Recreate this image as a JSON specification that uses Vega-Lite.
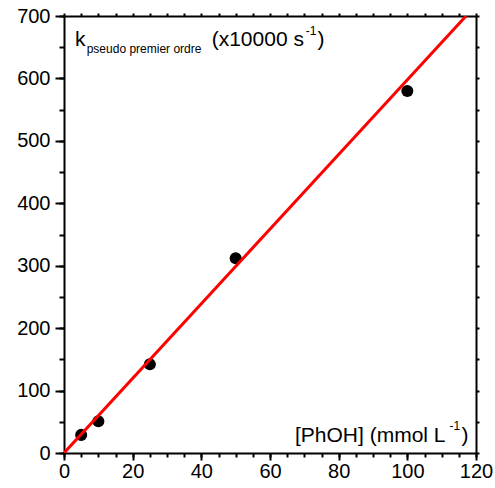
{
  "$schema": "https://vega.github.io/schema/vega-lite/v6.json",
  "width": 412,
  "height": 437,
  "autosize": {"type": "none"},
  "padding": {"left": 64, "top": 16, "right": 19, "bottom": 35},
  "background": "white",
  "config": {
    "view": {"stroke": null},
    "font": "Liberation Sans",
    "axis": {
      "grid": false,
      "domainColor": "black",
      "domainWidth": 2,
      "tickColor": "black",
      "tickWidth": 2,
      "labelColor": "black",
      "labelFont": "Liberation Sans",
      "labelFontSize": 20,
      "labelFlush": false,
      "labelOverlap": false
    }
  },
  "datasets": {
    "points": [
      {"conc": 5, "k": 29},
      {"conc": 10, "k": 51},
      {"conc": 25, "k": 142},
      {"conc": 50, "k": 312},
      {"conc": 100, "k": 580}
    ],
    "fit": [
      {"conc": 0, "k": 0},
      {"conc": 117.1, "k": 700}
    ],
    "bigtext": [
      {"conc": 3.2, "k": 651.9, "text": "k"},
      {"conc": 43.02, "k": 651.9, "text": "(x10000 s"},
      {"conc": 73.8, "k": 651.9, "text": ")"},
      {"conc": 67.28, "k": 18.1, "text": "[PhOH] (mmol L"},
      {"conc": 115.8, "k": 18.1, "text": ")"}
    ],
    "smalltext": [
      {"conc": 6.61, "k": 640.3, "text": "pseudo premier ordre"},
      {"conc": 70.4, "k": 669.6, "text": "-1"},
      {"conc": 112.3, "k": 36.9, "text": "-1"}
    ]
  },
  "layer": [
    {
      "data": {"name": "points"},
      "mark": {"type": "point", "filled": true, "color": "black", "opacity": 1, "size": 145, "shape": "circle"},
      "encoding": {
        "x": {"field": "conc", "type": "quantitative", "scale": {"domain": [0, 120], "nice": false, "zero": false},
              "axis": {"orient": "bottom", "title": null, "values": [0, 20, 40, 60, 80, 100, 120], "tickSize": 7, "labelPadding": 1}},
        "y": {"field": "k", "type": "quantitative", "scale": {"domain": [0, 700], "nice": false, "zero": false},
              "axis": {"orient": "left", "title": null, "values": [0, 100, 200, 300, 400, 500, 600, 700], "tickSize": 9, "labelPadding": 5}}
      }
    },
    {
      "data": {"name": "fit"},
      "mark": {"type": "line", "color": "#ff0000", "strokeWidth": 3, "clip": true},
      "encoding": {
        "x": {"field": "conc", "type": "quantitative", "scale": {"domain": [0, 120], "nice": false, "zero": false},
              "axis": {"orient": "top", "title": null, "labels": false, "values": [0,5,10,15,20,25,30,35,40,45,50,55,60,65,70,75,80,85,90,95,100,105,110,115,120], "tickSize": 3}},
        "y": {"field": "k", "type": "quantitative", "scale": {"domain": [0, 700], "nice": false, "zero": false},
              "axis": {"orient": "right", "title": null, "labels": false, "values": [0,50,100,150,200,250,300,350,400,450,500,550,600,650,700], "tickSize": 3}}
      }
    },
    {
      "data": {"name": "bigtext"},
      "mark": {"type": "text", "align": "left", "baseline": "alphabetic", "fontSize": 21, "font": "Liberation Sans", "color": "black"},
      "encoding": {
        "x": {"field": "conc", "type": "quantitative", "scale": {"domain": [0, 120], "nice": false, "zero": false},
              "axis": {"orient": "bottom", "title": null, "labels": false, "domain": false, "values": [0,5,10,15,20,25,30,35,40,45,50,55,60,65,70,75,80,85,90,95,100,105,110,115,120], "tickSize": 4}},
        "y": {"field": "k", "type": "quantitative", "scale": {"domain": [0, 700], "nice": false, "zero": false},
              "axis": {"orient": "left", "title": null, "labels": false, "domain": false, "values": [0,50,100,150,200,250,300,350,400,450,500,550,600,650,700], "tickSize": 5}},
        "text": {"field": "text"}
      }
    },
    {
      "data": {"name": "smalltext"},
      "mark": {"type": "text", "align": "left", "baseline": "alphabetic", "fontSize": 12, "font": "Liberation Sans", "color": "black"},
      "encoding": {
        "x": {"field": "conc", "type": "quantitative", "scale": {"domain": [0, 120], "nice": false, "zero": false}, "axis": null},
        "y": {"field": "k", "type": "quantitative", "scale": {"domain": [0, 700], "nice": false, "zero": false}, "axis": null},
        "text": {"field": "text"}
      }
    }
  ],
  "resolve": {"axis": {"x": "independent", "y": "independent"}}
}
